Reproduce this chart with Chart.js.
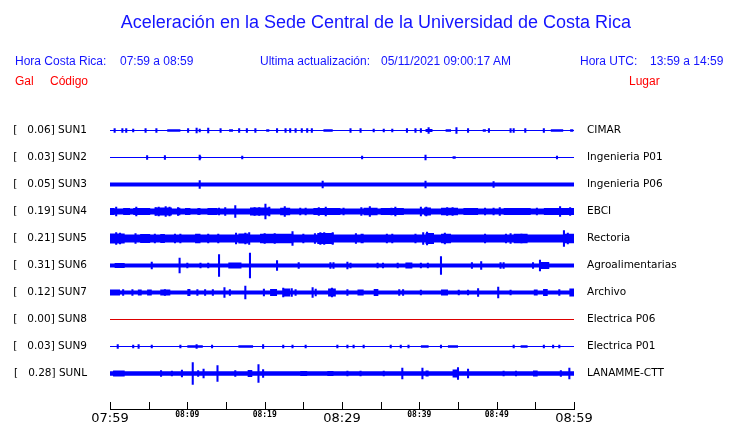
<!DOCTYPE html>
<html>
<head>
<meta charset="utf-8">
<script src="https://cdn.jsdelivr.net/npm/chart.js@4/dist/chart.umd.min.js"></script>
<style>
  body { margin: 0; background: #fff; }
  #wrap { position: relative; width: 740px; height: 423px; overflow: hidden; }
  #wrap canvas { position: absolute; left: 0; top: 0; }
  .t { position: absolute; font-family: "Liberation Sans", Arial, sans-serif; font-size: 12px; line-height: 14px; color: #1414ff; white-space: pre; }
  .r { color: #ff0000; }
  #title { position: absolute; left: 0; width: 752px; top: 11px; text-align: center; font-family: "Liberation Sans", Arial, sans-serif; font-size: 18px; line-height: 22px; color: #1414ff; }
</style>
</head>
<body>
<div id="wrap">
  <canvas id="sismo" width="740" height="423"></canvas>
  <div id="title">Aceleración en la Sede Central de la Universidad de Costa Rica</div>
  <div class="t" style="left:15px;top:54px">Hora Costa Rica:</div>
  <div class="t" style="left:120px;top:54px">07:59 a 08:59</div>
  <div class="t" style="left:260px;top:54px">Ultima actualización:</div>
  <div class="t" style="left:381px;top:54px">05/11/2021 09:00:17 AM</div>
  <div class="t" style="left:580px;top:54px">Hora UTC:</div>
  <div class="t" style="left:650px;top:54px">13:59 a 14:59</div>
  <div class="t r" style="left:15px;top:74px">Gal</div>
  <div class="t r" style="left:50px;top:74px">Código</div>
  <div class="t r" style="left:629px;top:74px">Lugar</div>
</div>
<script>
// eje de tiempo: minutos desde 07:59
const timeLabels = ['07:59', '08:09', '08:19', '08:29', '08:39', '08:49', '08:59'];
const stations = ['SUN1', 'SUN2', 'SUN3', 'SUN4', 'SUN5', 'SUN6', 'SUN7', 'SUN8', 'SUN9', 'SUNL'];
const peakGal = ['0.06', '0.03', '0.05', '0.19', '0.21', '0.31', '0.12', '0.00', '0.03', '0.28'];
const places = ['CIMAR', 'Ingenieria P01', 'Ingenieria P06', 'EBCI', 'Rectoria', 'Agroalimentarias',
                'Archivo', 'Electrica P06', 'Electrica P01', 'LANAMME-CTT'];

// nivel de ruido de fondo (semiamplitud)
const noiseLevel = [0.5, 0.5, 1.9, 3, 4, 2, 2, 0.5, 0.6, 2.2];

// rafagas: [minuto inicio, minuto fin, semiamplitud]
const burst1 = [[7.4,9.1,1.3],[15.4,15.9,1.3],[20.2,20.6,1.3],[27.6,28.8,1.3],[40.8,41.7,1.6],[43.4,44.1,1.3],
  [48.2,48.6,1.2],[57.0,58.6,1.3],[59.5,59.9,1.2]];
const burst2 = [[11.5,11.8,1.5],[44.3,44.7,1.3]];
const burst3 = [];
const burst4 = [[0,0.6,3.5],[1.7,2.6,3.5],[3.0,5.2,3.5],[5.8,8.0,4],[8.7,9.1,3.7],[9.7,10.4,3.5],[11.3,11.7,3.5],
  [12.6,13.9,3.5],[18.1,20.7,4],[22.0,23.3,3.7],[26.3,29.8,3.5],[32.8,34.6,3.7],[35.0,38.0,3.5],
  [40.6,41.5,4],[42.8,45.0,3.7],[45.7,47.6,3.5],[50.9,54.4,3.5],[56.1,60,3.5]];
const burst5 = [[0,1.9,5],[3.9,5.2,4.5],[6.5,7.1,4.5],[11.0,11.7,4.8],[16.6,17.9,5],[19.4,23.7,4.8],[26.8,28.9,5.5],
  [32.4,32.8,4.8],[40.8,41.9,5.5],[42.8,44.1,4.8],[52.2,54.0,4.8],[58.7,60,4.8]];
const burst6 = [[0.6,1.9,2.5],[15.3,17.0,3],[38.2,39.1,3],[55.7,56.8,3.5]];
const burst7 = [[0,1.3,3],[3.6,4.1,3],[4.8,5.4,3],[6.5,7.8,3],[10.0,10.4,3.5],[20.7,21.6,3.5],[22.4,23.3,4],
  [28.2,29.2,4],[32.0,32.8,3],[34.1,34.7,3.5],[42.8,43.7,3],[54.8,55.3,3],[56.0,56.6,3.5],[59.4,60,4]];
const burst8 = [];
const burst9 = [[10.0,12.0,1.2],[16.6,18.5,1.2],[40.2,41.2,1.2],[43.7,45.0,1.2],[53.1,54.0,1.2]];
const burstL = [[0.4,1.9,3],[17.8,18.4,3.5],[24.6,25.5,2.5],[28.1,28.9,2.5],[40.8,41.2,3],[44.3,45.1,4],[54.7,55.3,3]];

// picos: [minuto, semiamplitud]
const sun1 = [[0.6,2],[1.6,2],[2.1,2],[3.0,1.5],[4.6,2],[6.0,2],[10.1,2],[11.2,2.5],[11.6,1.5],[12.7,2.5],[14.3,2],
  [16.7,2],[17.7,2],[18.8,2],[21.6,2],[22.7,2],[23.3,2],[24.0,2],[24.8,2],[25.5,2],[26.1,2],[31.1,2],[32.4,2],
  [34.1,1.5],[35.4,1.5],[36.5,1.5],[38.4,2],[39.5,2],[40.2,2],[41.2,3],[44.8,3],[46.3,2],[49.0,2],[51.8,2],
  [52.2,2],[53.7,2],[56.1,2]];
const sun2 = [[4.8,2],[7.1,2],[11.6,2.5],[17.1,1.5],[32.6,1.5],[40.8,2.5],[57.8,1.5]];
const sun3 = [[11.6,4],[27.5,3.5],[40.8,3.5],[49.6,3]];
const sun4 = [[0.8,4.5],[3.4,4.5],[5.9,4],[6.3,4.5],[7.2,5],[7.7,4.5],[8.8,4],[14.1,3.5],[14.9,4],[16.2,6],[18.7,4],
  [19.3,4],[20.1,7.5],[20.6,4.5],[22.6,5],[24.6,3.5],[25.3,3.5],[27.0,4],[27.9,4.5],[30.2,3.5],[32.5,4],[33.6,5],
  [36.4,3.5],[36.9,4.5],[40.2,4.5],[40.9,4.5],[43.6,4],[44.3,4],[48.5,3.5],[49.6,3.5],[50.4,4],[55.2,3.5],[58.2,5],
  [59.5,4]];
const sun5 = [[0.8,6],[1.3,5.5],[3.3,5],[5.8,4.5],[8.4,4.5],[9.1,4.5],[12.7,4.5],[14.0,4.5],[16.3,5.5],[17.5,5.5],
  [18.0,6],[20.0,5],[21.3,5],[23.6,7],[25.0,4.5],[26.5,5],[27.2,6],[27.7,6],[28.8,6],[31.8,5],[35.8,4.5],
  [36.5,4.5],[39.5,4.5],[40.5,6],[41.0,6.5],[43.3,5.5],[48.5,4.5],[51.2,4.5],[51.8,5],[53.2,4.5],[58.7,8],[59.2,5.5]];
const sun6 = [[5.4,3.5],[9.0,7.5],[10.0,2.5],[11.7,2.5],[12.7,2.5],[14.1,11],[18.1,12.5],[21.6,5],[24.4,3],
  [28.5,3],[28.9,3],[30.7,3.5],[31.1,2.5],[34.6,2.5],[35.3,2.5],[37.2,2.5],[40.2,2.5],[41.1,2.5],[42.8,9],
  [46.8,3],[48.0,4],[50.5,3],[50.9,3],[54.7,3],[55.6,5.5]];
const sun7 = [[1.7,3],[2.9,3],[7.1,3],[11.3,3],[12.3,3],[13.3,3],[14.8,5],[15.5,3],[17.5,6.5],[19.9,3.5],[22.4,4.5],
  [23.5,4],[24.0,3],[26.2,5],[26.6,3.5],[28.7,4.5],[30.7,3],[37.4,3],[37.9,3],[40.2,2.5],[45.1,2.5],[46.3,2.5],
  [47.6,4],[50.2,5.5],[51.8,2.5],[58.1,3]];
const sun8 = [];
const sun9 = [[1.0,2],[3.0,1.5],[3.7,2],[5.4,1.5],[9.1,1.5],[11.2,2],[13.2,1.5],[19.8,2],[22.4,1.5],[23.6,1.5],
  [25.3,1.5],[29.4,1.5],[30.7,1.5],[31.5,1.5],[32.8,1.5],[36.3,1.5],[37.6,1.5],[38.6,1.5],[42.8,1.5],[52.2,1.5],
  [56.1,1.5],[57.3,1.5],[58.1,1.5]];
const sunL = [[6.6,3],[8.0,2.5],[9.3,3.5],[10.7,11],[11.4,3],[12.1,4.5],[13.9,8],[16.2,3],[19.2,9],[19.8,4],
  [30.7,2.5],[32.4,2.5],[35.4,2.5],[37.8,5.5],[40.4,5.5],[45.0,6],[46.3,4.5],[50.9,2.5],[52.5,2.5],[58.3,3],[59.4,5.5]];

const burstLists = [burst1, burst2, burst3, burst4, burst5, burst6, burst7, burst8, burst9, burstL];
const spikeLists = [sun1, sun2, sun3, sun4, sun5, sun6, sun7, sun8, sun9, sunL];

const traceColor = stations.map(s => s === 'SUN8' ? '#dd0000' : '#0000ff');
const rowStep = 27;
const rowY = stations.map((s, i) => rowStep * (i + 1));

// contorno de una traza (sign -1 arriba, +1 abajo), con escalones verticales en cada rafaga
function envelope(i, sign) {
    const c = rowY[i], base = c + sign * noiseLevel[i];
    const pts = [{x: 0, y: base}];
    burstLists[i].forEach(b => {
        const top = c + sign * b[2];
        pts.push({x: b[0], y: base}, {x: b[0], y: top}, {x: b[1], y: top}, {x: b[1], y: base});
    });
    pts.push({x: 60, y: base});
    return pts;
}

const noStroke = 'rgba(0,0,0,0)';
const datasets = [];
stations.forEach((s, i) => {
    datasets.push({
        type: 'line', label: s + ' sup', data: envelope(i, -1),
        borderColor: noStroke, borderWidth: 0, pointRadius: 0, tension: 0, fill: false
    });
    datasets.push({
        type: 'line', label: s + ' inf', data: envelope(i, 1),
        borderColor: noStroke, borderWidth: 0, pointRadius: 0, tension: 0,
        fill: '-1', backgroundColor: traceColor[i]
    });
    datasets.push({
        type: 'line', label: s, data: [{x: 0, y: rowY[i]}, {x: 60, y: rowY[i]}],
        borderColor: traceColor[i], borderWidth: 1, pointRadius: 0, fill: false
    });
    datasets.push({
        type: 'bar', label: s + ' picos',
        data: spikeLists[i].map(p => ({x: p[0], y: [rowY[i] - p[1], rowY[i] + p[1]]})),
        backgroundColor: traceColor[i], borderWidth: 0, barThickness: 1.4, grouped: false
    });
});

const upTicks = {
    id: 'upTicks',
    afterDraw(chart) {
        const x = chart.scales.x;
        const ctx = chart.ctx;
        const bottom = Math.round(chart.chartArea.bottom);
        ctx.save();
        ctx.strokeStyle = '#000';
        ctx.lineWidth = 1;
        x.ticks.forEach(t => {
            const px = Math.round(x.getPixelForValue(t.value)) + 0.5;
            ctx.beginPath();
            ctx.moveTo(px, bottom - 8);
            ctx.lineTo(px, bottom);
            ctx.stroke();
        });
        ctx.restore();
    }
};

Chart.defaults.color = '#000';
Chart.defaults.font.family = 'DejaVu Sans';

// marcas invisibles: separan las etiquetas del area sin inflar el relleno vertical
const hiddenTicks = len => ({display: true, drawOnChartArea: false, drawTicks: true, tickLength: len, tickColor: noStroke});

new Chart(document.getElementById('sismo'), {
    type: 'line',
    data: {datasets: datasets},
    options: {
        responsive: false,
        animation: false,
        layout: {padding: {top: 103.5, left: 0, right: 0, bottom: 0}},
        plugins: {legend: {display: false}, tooltip: {enabled: false}},
        scales: {
            x: {
                type: 'linear',
                min: 0,
                max: 60,
                offset: false,
                afterFit: s => { s.height = 13.5; },
                grid: {display: false, drawTicks: false},
                border: {display: true, color: '#000', width: 1},
                ticks: {
                    stepSize: 5,
                    autoSkip: false,
                    maxRotation: 0,
                    padding: 1,
                    callback: v => v % 10 === 0 ? timeLabels[v / 10] : '',
                    font: ctx => ctx.index % 6 === 0
                        ? {family: 'DejaVu Sans', size: 13}
                        : {family: 'DejaVu Sans Mono', size: 8, weight: 'bold'}
                }
            },
            y: {
                type: 'linear',
                position: 'left',
                reverse: true,
                min: 0,
                max: 306,
                afterFit: s => { s.width = 110; },
                afterBuildTicks: s => { s.ticks = rowY.map(v => ({value: v})); },
                grid: hiddenTicks(23),
                border: {display: false},
                ticks: {
                    padding: 0,
                    font: {family: 'DejaVu Sans', size: 10.5},
                    callback: (v, i) => '[   ' + peakGal[i] + '] ' + stations[i]
                }
            },
            y2: {
                type: 'linear',
                position: 'right',
                reverse: true,
                min: 0,
                max: 306,
                afterFit: s => { s.width = 166; },
                afterBuildTicks: s => { s.ticks = rowY.map(v => ({value: v})); },
                grid: hiddenTicks(13),
                border: {display: false},
                ticks: {
                    padding: 0,
                    font: {family: 'DejaVu Sans', size: 10.5},
                    callback: (v, i) => places[i]
                }
            }
        }
    },
    plugins: [upTicks]
});
</script>
</body>
</html>
